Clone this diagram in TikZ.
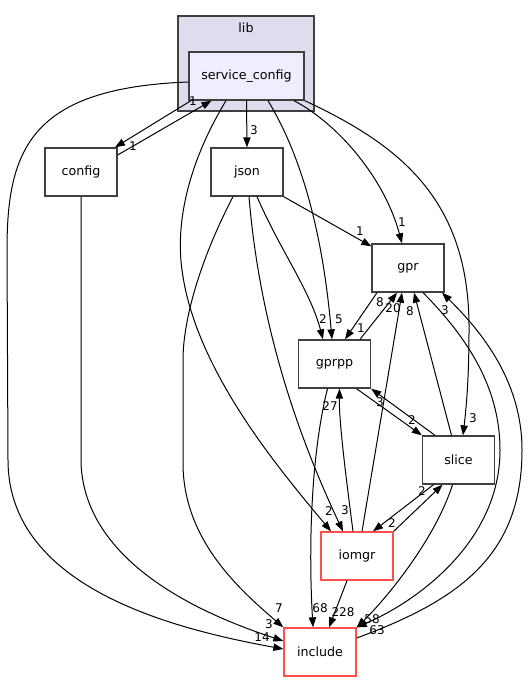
\documentclass[tikz,border=0pt]{standalone}
\usepackage{fontspec}
\setmainfont{DejaVu Sans}
\usetikzlibrary{positioning,calc,arrows.meta}
\definecolor{clusterfill}{HTML}{DDDDEE}
\definecolor{scfgfill}{HTML}{EEEEFF}
\definecolor{boxline}{HTML}{404040}
\definecolor{incline}{HTML}{FF5050}

\begin{document}
\begin{tikzpicture}[x=0.75pt, y=-0.75pt,
	dirbox/.style={draw=boxline, line width=1pt, minimum width=54pt, minimum height=36pt, inner sep=0pt, font=\fontsize{9.5}{11}\selectfont},
	incbox/.style={dirbox, draw=incline},
	cluster/.style={draw=boxline, line width=1pt, fill=clusterfill, minimum width=102pt, minimum height=71.25pt, inner sep=0pt},
	dep/.style={draw, line width=0.75pt, -{Triangle[length=7.5pt,width=5.5pt]}},
	num/.style={font=\fontsize{9}{9}\selectfont, inner sep=0pt}]
	\useasboundingbox (0,0) rectangle (529,681);

	\node[cluster] (lib) at (246,63.5) {};
	\node[inner sep=0pt, font=\fontsize{9.5}{11}\selectfont, below=5.25pt of lib.north] (libname) {lib};
	\node[dirbox, fill=scfgfill, minimum width=86.25pt] (scfg) at (246.5,76) {service\_config};
	\node[dirbox] (config) at (81,172) {config};
	\node[dirbox] (json) at (247,172) {json};
	\node[dirbox] (gpr) at (408,268) {gpr};
	\node[dirbox] (gprpp) at (334.5,364) {gprpp};
	\node[dirbox] (slice) at (458.5,460) {slice};
	\node[incbox] (iomgr) at (357,556) {iomgr};
	\node[incbox] (include) at (320,652) {include};

	% service_config
	\draw[dep] ($(scfg.south)+(-55.5,0)$) -- ($(config.north)+(34,0)$) node[num] at (133,146) {1};
	\draw[dep] ($(config.east)+(0,-17)$) -- ($(scfg.south)+(-35,0)$) node[num] at (193,101) {1};
	\draw[dep] (scfg.south) -- (json.north) node[num] at (254,130) {3};
	\draw[dep] ($(scfg.west)+(0,6)$) .. controls (30,88) and (7,150) .. (7,250) -- (8,460)
		.. controls (8,590) and (180,630) .. ($(include.west)+(0,-3)$) node[num] at (262,637) {14};
	\draw[dep] ($(scfg.south)+(-20.5,0)$) .. controls (190,160) and (175,220) .. (182,270)
		.. controls (195,370) and (280,470) .. ($(iomgr.north)+(-26,0)$) node[num] at (329,511) {2};
	\draw[dep] ($(scfg.south)+(21.5,0)$) .. controls (310,170) and (325,260) .. ($(gprpp.north)+(-2.5,0)$) node[num] at (339,319) {5};
	\draw[dep] ($(scfg.south)+(47.5,0)$) .. controls (340,125) and (385,180) .. ($(gpr.north)+(-6,0)$) node[num] at (402,222) {1};
	\draw[dep] (scfg.south east) .. controls (400,145) and (470,200) .. (469,330)
		.. controls (469,380) and (466,410) .. ($(slice.north)+(4.5,0)$) node[num] at (473,418) {3};

	% config, json
	\draw[dep] (config.south) -- (81,463) .. controls (85,570) and (220,620) .. ($(include.west)+(0,-11)$) node[num] at (269,624) {3};
	\draw[dep] ($(json.south)+(-14,0)$) .. controls (200,260) and (183,320) .. (183,360) -- (183,463)
		.. controls (183,540) and (240,590) .. (include.north west) node[num] at (279,608) {7};
	\draw[dep] ($(json.south)+(2,0)$) .. controls (260,330) and (300,440) .. ($(iomgr.north)+(-14,0)$) node[num] at (345,510) {3};
	\draw[dep] ($(json.south)+(10,0)$) .. controls (280,250) and (310,290) .. ($(gprpp.north)+(-11.5,0)$) node[num] at (323,319) {2};
	\draw[dep] (json.south east) -- ($(gpr.north west)+(0,3)$) node[num] at (360,231) {1};

	% gpr, gprpp
	\draw[dep] ($(gpr.south)+(-31,0)$) -- ($(gprpp.north)+(10.5,0)$) node[num] at (361,328) {1};
	\draw[dep] ($(gprpp.north)+(25.5,0)$) -- ($(gpr.south)+(-11,0)$) node[num] at (380,302) {8};
	\draw[dep] ($(gpr.south)+(15,0)$) .. controls (470,340) and (500,390) .. (500,450)
		.. controls (500,540) and (420,600) .. (include.north east) node[num] at (377,630) {63};
	\draw[dep] ($(gprpp.south)+(22,0)$) -- (slice.north west) node[num] at (412,420) {2};
	\draw[dep] ($(gprpp.south)+(-7,0)$) .. controls (312,450) and (308,540) .. ($(include.north)+(-7,0)$) node[num] at (320,608) {68};

	% slice, iomgr, include
	\draw[dep] ($(slice.north)+(-7,0)$) -- ($(gpr.south)+(6,0)$) node[num] at (410,311) {8};
	\draw[dep] ($(slice.north)+(-23.5,0)$) -- (gprpp.south east) node[num] at (380,402) {3};
	\draw[dep] ($(slice.south)+(-6,0)$) .. controls (435,540) and (385,600) .. (include.north east) node[num] at (372,619) {58};
	\draw[dep] ($(slice.south)+(-25,0)$) -- ($(iomgr.north)+(16,0)$) node[num] at (392,523) {2};
	\draw[dep] (iomgr.north east) -- ($(slice.south)+(-16,0)$) node[num] at (422,491) {2};
	\draw[dep] ($(iomgr.north)+(5,0)$) -- ($(gpr.south)+(-6,0)$) node[num] at (393,308) {20};
	\draw[dep] ($(iomgr.north)+(-4,0)$) .. controls (345,470) and (339,420) .. ($(gprpp.south)+(5,0)$) node[num] at (330,406) {27};
	\draw[dep] ($(iomgr.south)+(-10,0)$) -- ($(include.north)+(9,0)$) node[num] at (343,612) {228};
	\draw[dep] ($(include.east)+(0,-14)$) .. controls (460,600) and (522,555) .. (522,450)
		.. controls (522,380) and (480,330) .. ($(gpr.south)+(34,0)$) node[num] at (445,310) {3};
\end{tikzpicture}
\end{document}
